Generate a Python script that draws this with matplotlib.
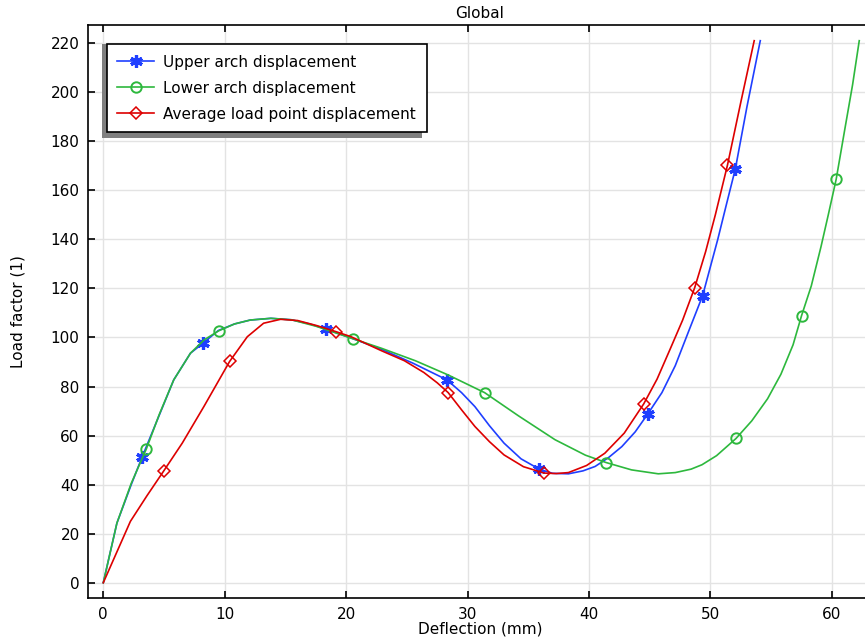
import matplotlib
matplotlib.use("Agg")
import matplotlib.pyplot as plt
from matplotlib.patches import Rectangle
from matplotlib.transforms import IdentityTransform

# Upper arch displacement (mm) vs load factor
upper_x = [0, 1.12, 2.3, 3.2, 4.5, 5.8, 7.18, 8.25, 9.46, 10.8, 12.1, 13.8, 15.5, 17.0,
           18.3, 20.6, 22.9, 25.5, 28.3, 29.5, 30.6, 31.8, 33.0, 34.4, 35.9, 37.0, 38.3,
           39.5, 40.5, 41.6, 42.7, 43.8, 44.85, 46.0, 47.1, 48.2, 49.35, 50.6, 51.3, 52.05,
           53.0, 54.1]
upper_y = [0, 24.3, 40, 51.3, 67, 82.7, 93.6, 97.8, 102.8, 105.5, 107.1, 107.8, 107.2, 105.5,
           103.5, 99.4, 95.2, 89.5, 82.7, 77.5, 71.8, 64, 56.9, 50.5, 46.3, 44.6, 44.4,
           45.6, 47.4, 51, 55.5, 61.5, 68.9, 77.5, 88.5, 102.5, 117, 140, 154, 168.8,
           194, 221]
upper_marks = [3, 7, 14, 18, 24, 32, 36, 39]

# Lower arch displacement
lower_x = [0, 1.12, 2.3, 3.55, 4.6, 5.8, 7.18, 8.3, 9.5, 10.8, 12.1, 13.8, 15.5, 17.5,
           20.6, 22.9, 25.7, 28.4, 31.4, 34.2, 37.2, 39.7, 41.4, 43.5, 45.7, 47.1, 48.4,
           49.3, 50.5, 52.1, 53.4, 54.7, 55.8, 56.8, 57.5, 58.3, 59.1, 59.7, 60.35, 61.1,
           61.7, 62.25]
lower_y = [0, 24.3, 40.5, 54.6, 68.5, 82.7, 93.6, 99, 102.7, 105.5, 107.1, 107.8, 107.2, 104.6,
           99.4, 95.6, 90.5, 84.7, 77.5, 68, 58.3, 52, 49, 46, 44.4, 44.9, 46.3,
           48.1, 51.8, 58.8, 66, 75, 85, 97, 108.9, 121, 137, 150, 164.5, 186,
           203, 221]
lower_marks = [3, 8, 14, 18, 22, 29, 34, 38]

# Average load point displacement
avg_x = [0, 2.23, 3.6, 4.98, 6.5, 8.28, 10.4, 11.86, 13.2, 14.6, 16.0, 17.6, 19.2, 20.4,
         22.9, 24.8, 26.4, 27.5, 28.4, 29.5, 30.6, 31.8, 33.0, 34.6, 36.3, 37.3, 38.3,
         39.8, 41.3, 42.9, 44.5, 45.6, 46.7, 47.7, 48.7, 49.6, 50.4, 51.4, 52.5, 53.6]
avg_y = [0, 25, 35.5, 45.6, 56.9, 71.8, 90.2, 100.3, 105.8, 107.4, 106.9, 104.8, 102.3, 100.3,
         94.6, 90.5, 85.7, 81.5, 77.5, 70.5, 63.7, 57.5, 52.1, 47.3, 44.7, 44.5, 44.9,
         47.8, 52.8, 61, 72.9, 83, 95.5, 107, 120.3, 135, 150, 170.3, 196, 221]
avg_marks = [3, 6, 12, 18, 24, 30, 34, 37]

x_ticks = [0, 10, 20, 30, 40, 50, 60]
y_ticks = [0, 20, 40, 60, 80, 100, 120, 140, 160, 180, 200, 220]

fig = plt.figure(figsize=(8.65, 6.38), dpi=100)
ax = fig.add_axes([88/865, 1 - 598.3/638, 784/865, 573.3/638])

ax.plot(upper_x, upper_y, color='#1f3fff', lw=1.2, marker=(6, 2, 0), ms=9, mew=2.3,
        markevery=upper_marks, label='Upper arch displacement')
ax.plot(lower_x, lower_y, color='#2db83d', lw=1.2, marker='o', ms=7.5, mfc='none', mew=1.4,
        markevery=lower_marks, label='Lower arch displacement')
ax.plot(avg_x, avg_y, color='#dd0000', lw=1.2, marker='D', ms=6, mfc='none', mew=1.1,
        markevery=avg_marks, label='Average load point displacement')

ax.set_xlim(-1.26, 63.3)
ax.set_ylim(-6.36, 227.4)
ax.set_xticks(x_ticks)
ax.set_yticks(y_ticks)
ax.tick_params(direction='in', length=5, width=1.2, labelsize=11, top=True, right=False,
               pad=6)
ax.grid(True, color='#e3e3e3', lw=1)
ax.set_axisbelow(True)
for s in ax.spines.values():
    s.set_linewidth(1.2)
ax.spines['right'].set_visible(False)

ax.set_title('Global', fontsize=11, pad=5)
ax.set_xlabel('Deflection (mm)', fontsize=11, labelpad=0)
ax.set_ylabel('Load factor (1)', fontsize=11, labelpad=18)

leg = ax.legend(loc='upper left', bbox_to_anchor=(0.0239, 0.9669), borderaxespad=0,
                fontsize=11, fancybox=False, framealpha=1, edgecolor='black',
                handlelength=2.4, handletextpad=0.6, labelspacing=0.72, borderpad=0.7)
leg.get_frame().set_linewidth(1.2)

# gray shadow sticking out left and below the legend box
fig.canvas.draw()
bb = leg.get_window_extent()
shadow = Rectangle((bb.x0 - 5, bb.y0 - 6), bb.width, bb.height + 6,
                   transform=IdentityTransform(), facecolor='#808080', edgecolor='none',
                   zorder=4.9, clip_on=False)
ax.add_artist(shadow)

fig.savefig('out.png', dpi=100)
